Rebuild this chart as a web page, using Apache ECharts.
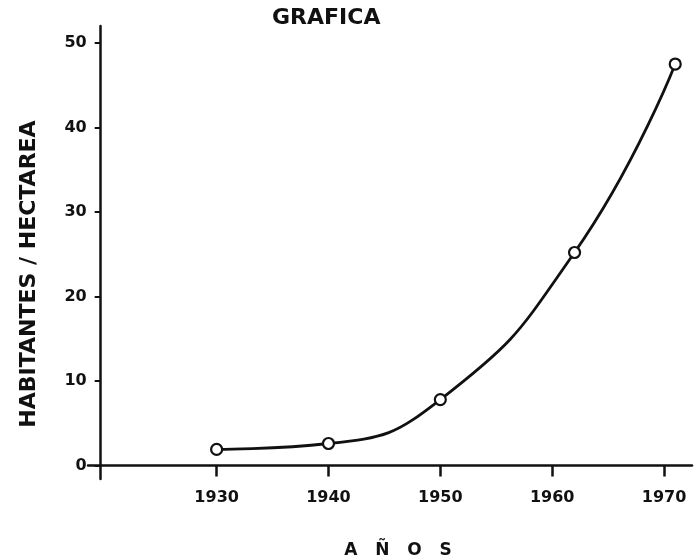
<!DOCTYPE html>
<html>
<head>
<meta charset="utf-8">
<script src="https://cdn.jsdelivr.net/npm/echarts@6/dist/echarts.min.js"></script>
<style>
  html, body { margin: 0; padding: 0; background: #fff; }
  #chart { width: 694px; height: 560px; }
</style>
</head>
<body>
<div id="chart"></div>
<script>
// Data
var years = [1930, 1940, 1950, 1962, 1971];
var density = [1.9, 2.6, 7.8, 25.2, 47.5];
var xTicks = [1930, 1940, 1950, 1960, 1970];
var yTicks = [0, 10, 20, 30, 40, 50];
var titleText = 'GRAFICA';
var xName = 'A   Ñ   O   S';
var yName = 'HABITANTES / HECTAREA';

var points = years.map(function (y, i) { return [y, density[i]]; });
var FONT = 'DejaVu Sans';
var INK = '#111';

var chart = echarts.init(document.getElementById('chart'), null, { renderer: 'canvas' });
chart.setOption({
  backgroundColor: '#ffffff',
  animation: false,
  title: {
    text: titleText,
    left: 272,
    top: 7,
    padding: 0,
    textStyle: { fontFamily: FONT, fontWeight: 'bold', fontSize: 22, color: INK }
  },
  grid: { left: 88, right: 2, top: 26, bottom: 81, outerBoundsMode: 'none', containLabel: false },
  xAxis: {
    type: 'value',
    min: 1918.5,
    max: 1972.5,
    name: xName,
    nameLocation: 'middle',
    nameGap: 63,
    nameMoveOverlap: false,
    nameTextStyle: { fontFamily: FONT, fontWeight: 'bold', fontSize: 17, color: INK, padding: [0, 0, 0, 16] },
    axisLine: { show: true, onZero: true, lineStyle: { color: INK, width: 2.5 } },
    axisTick: { show: true, inside: false, length: 11, customValues: xTicks, lineStyle: { color: INK, width: 2.5 } },
    axisLabel: {
      customValues: xTicks, margin: 11, fontFamily: FONT, fontWeight: 'bold', fontSize: 16, color: INK,
      formatter: function (v) { return String(v); }
    },
    splitLine: { show: false }
  },
  yAxis: {
    type: 'value',
    min: -1.6,
    max: 52,
    offset: -12.7,
    name: yName,
    nameLocation: 'middle',
    nameGap: 60,
    nameMoveOverlap: false,
    nameRotate: 90,
    nameTextStyle: { fontFamily: FONT, fontWeight: 'bold', fontSize: 22, color: INK, padding: [0, 43, 0, 0] },
    axisLine: { show: true, onZero: false, lineStyle: { color: INK, width: 2.5 } },
    axisTick: { show: true, inside: false, length: 6, customValues: yTicks, lineStyle: { color: INK, width: 2 } },
    axisLabel: {
      customValues: yTicks, margin: 14, fontFamily: FONT, fontWeight: 'bold', fontSize: 16, color: INK,
      formatter: function (v) { return String(v); }
    },
    splitLine: { show: false }
  },
  series: [{
    type: 'line',
    data: points,
    smooth: 0.5,
    symbol: 'circle',
    symbolSize: 11,
    showAllSymbol: true,
    lineStyle: { color: INK, width: 2.8 },
    itemStyle: { color: '#fff', borderColor: INK, borderWidth: 2.2 },
    z: 3
  }]
});
</script>
</body>
</html>
